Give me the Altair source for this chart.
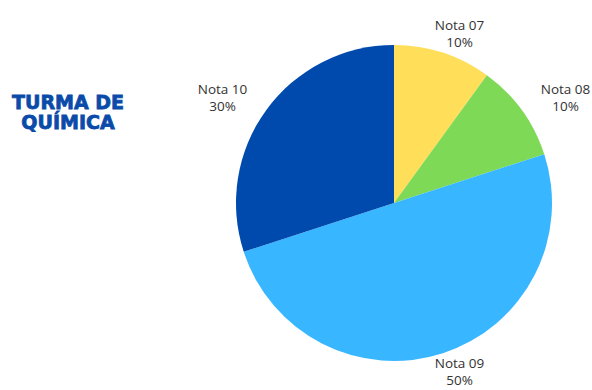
import altair as alt
import pandas as pd

categories = ["Nota 07", "Nota 08", "Nota 09", "Nota 10"]
shares = [10, 10, 50, 30]
colors = ["#FFDE59", "#7ED957", "#38B6FF", "#004AAD"]
title_lines = ["TURMA DE", "QUÍMICA"]

df = pd.DataFrame({"cat": categories, "val": shares, "idx": list(range(len(categories)))})
df["pct"] = df["val"].astype(str) + "%"

CX, CY, R = 394, 203, 158
RX, RY = 212, 178

base = alt.Chart(df)

pie = base.mark_arc(stroke=None).encode(
    theta=alt.Theta("val:Q", stack=True),
    color=alt.Color("cat:N", scale=alt.Scale(domain=categories, range=colors), legend=None),
    order=alt.Order("idx:Q"),
    x=alt.value(CX),
    y=alt.value(CY),
    radius=alt.value(R),
)

lab = base.transform_window(
    cum="sum(val)", sort=[alt.SortField("idx")]
).transform_joinaggregate(tot="sum(val)").transform_calculate(
    mid="2*PI*(datum.cum - datum.val/2)/datum.tot"
).transform_calculate(
    lx=f"{CX} + {RX}*sin(datum.mid)",
    ly=f"{CY} - {RY}*cos(datum.mid)",
)

name_txt = lab.mark_text(font="Open Sans", fontSize=13.5, color="#333333", baseline="middle").encode(
    x=alt.X("lx:Q", scale=None),
    y=alt.Y("y1:Q", scale=None),
    text="cat:N",
).transform_calculate(y1="datum.ly - 8")

pct_txt = lab.mark_text(font="Open Sans", fontSize=13.5, color="#333333", baseline="middle").encode(
    x=alt.X("lx:Q", scale=None),
    y=alt.Y("y2:Q", scale=None),
    text="pct:N",
).transform_calculate(y2="datum.ly + 9")

tdf = pd.DataFrame({"t": title_lines, "i": [0, 1]})
title = alt.Chart(tdf).mark_text(
    font="DejaVu Sans", fontWeight="bold", fontSize=19, color="#0A4BAA",
    stroke="#0A4BAA", strokeWidth=0.8, baseline="alphabetic"
).encode(
    x=alt.value(68),
    y=alt.Y("yy:Q", scale=None),
    text="t:N",
).transform_calculate(yy="109 + datum.i*20")

chart = alt.layer(pie, name_txt, pct_txt, title).properties(
    width=592, height=390, padding=0,
    autosize=alt.AutoSizeParams(type="none"),
).configure_view(stroke=None)

chart.save("out.html", embed_options={"renderer": "svg", "actions": False})
